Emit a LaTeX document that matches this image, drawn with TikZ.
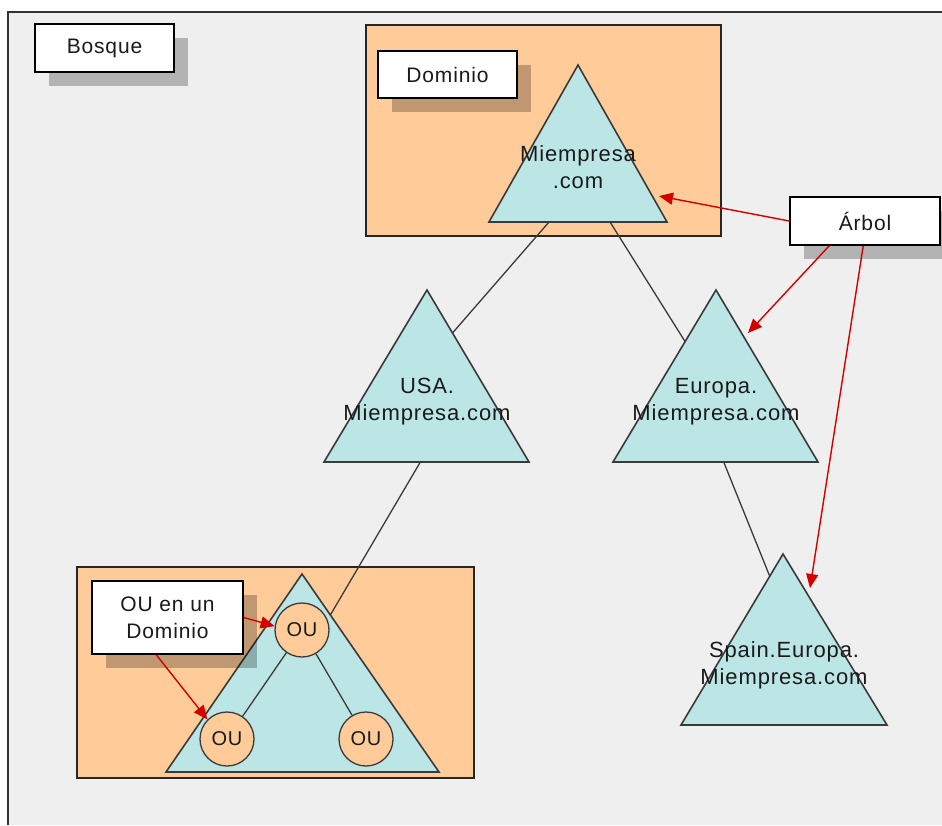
\documentclass[tikz,border=0pt]{standalone}
\usepackage{fontspec}
\setmainfont{Liberation Sans}[LetterSpace=4]
\usetikzlibrary{arrows.meta,calc,shadows}

\definecolor{bggray}{HTML}{EFEFEF}
\definecolor{domorange}{HTML}{FFCC99}
\definecolor{treecyan}{HTML}{BCE6E6}
\definecolor{arrowred}{HTML}{D40000}
\definecolor{edgegray}{HTML}{3A3A3A}
\definecolor{inkgray}{HTML}{1A1A1A}

\tikzset{
  lbl/.style={draw=black, line width=1.5pt, fill=white, inner sep=0pt,
    text=inkgray, font=\fontsize{21}{27}\selectfont, align=center,
    drop shadow={shadow xshift=14pt, shadow yshift=-14pt, fill=black, opacity=0.25}},
  domainbox/.style={draw=black!85, line width=1.7pt, fill=domorange},
  tri/.style={draw=edgegray, line width=1.6pt, fill=treecyan, line join=miter},
  tritext/.style={font=\fontsize{22}{27}\selectfont, text=inkgray, align=center, inner sep=0pt},
  link/.style={draw=edgegray, line width=1.3pt},
  pointer/.style={draw=arrowred, line width=1.4pt, -{Triangle[length=14pt,width=12pt]}},
  ou/.style={circle, draw=edgegray, line width=1.3pt, fill=domorange,
    minimum size=54pt, inner sep=0pt, text=inkgray, font=\fontsize{20}{24}\selectfont},
}

\begin{document}
\begin{tikzpicture}[x=1pt,y=-1pt]
  \useasboundingbox (0,0) rectangle (942,825);
  \clip (0,0) rectangle (942,825);
  \fill[white] (0,0) rectangle (942,825);

  % forest frame
  \fill[bggray] (8,12) rectangle (942,825);
  \draw[line width=1.5pt, black!80] (8,825) -- (8,12) -- (942,12);

  % domain backgrounds
  \path[domainbox] (366,25) rectangle (721,236);
  \path[domainbox] (77,567) rectangle (474,778);

  % tree triangles
  \coordinate (root-a) at (578,65);  \coordinate (root-l) at (489,222); \coordinate (root-r) at (667,222);
  \coordinate (usa-a)  at (427,290); \coordinate (usa-l)  at (324,462); \coordinate (usa-r)  at (529,462);
  \coordinate (eu-a)   at (716,290); \coordinate (eu-l)   at (613,462); \coordinate (eu-r)   at (818,462);
  \coordinate (sp-a)   at (783,554); \coordinate (sp-l)   at (681,725); \coordinate (sp-r)   at (887,725);
  \coordinate (ou-a)   at (302,574); \coordinate (ou-l)   at (166,772); \coordinate (ou-r)   at (439,772);

  \path[tri] (root-a) -- (root-l) -- (root-r) -- cycle;
  \path[tri] (usa-a) -- (usa-l) -- (usa-r) -- cycle;
  \path[tri] (eu-a) -- (eu-l) -- (eu-r) -- cycle;
  \path[tri] (sp-a) -- (sp-l) -- (sp-r) -- cycle;
  \path[tri] (ou-a) -- (ou-l) -- (ou-r) -- cycle;

  % attachment points on the triangles
  \coordinate (root-b1) at ($(root-l)!0.337!(root-r)$);
  \coordinate (root-b2) at ($(root-l)!0.68!(root-r)$);
  \coordinate (usa-side) at ($(usa-a)!0.25!(usa-r)$);
  \coordinate (usa-base) at ($(usa-l)!0.47!(usa-r)$);
  \coordinate (eu-side) at ($(eu-a)!0.30!(eu-l)$);
  \coordinate (eu-base) at ($(eu-l)!0.54!(eu-r)$);
  \coordinate (sp-side) at ($(sp-a)!0.13!(sp-l)$);
  \coordinate (ou-side) at ($(ou-a)!0.207!(ou-r)$);
  \coordinate (root-hit) at (659,196);
  \coordinate (eu-hit) at (748,333);
  \coordinate (sp-hit) at (810,588);

  % links between domains
  \draw[link] (root-b1) -- (usa-side);
  \draw[link] (root-b2) -- (eu-side);
  \draw[link] (eu-base) -- (sp-side);
  \draw[link] (usa-base) -- (ou-side);

  % domain names
  \node[tritext] (root-t) at (578,167) {Miempresa\\.com};
  \node[tritext] (usa-t) at (427,402) {USA.\\Miempresa.com};
  \node[tritext] (eu-t) at (716,402) {Europa.\\Miempresa.com};
  \node[tritext] (sp-t) at (784,665) {Spain.Europa.\\Miempresa.com};

  % organisational units
  \node[ou] (ou1) at (302,630) {OU};
  \node[ou] (ou2) at (227,739) {OU};
  \node[ou] (ou3) at (366,739) {OU};
  \draw[link] (ou1) -- (ou2);
  \draw[link] (ou1) -- (ou3);

  % labels
  \node[lbl, minimum width=139pt, minimum height=48pt] (bosque) at (104.5,48) {Bosque};
  \node[lbl, minimum width=139pt, minimum height=47pt] (dominio) at (447.5,74.5) {Dominio};
  \node[lbl, minimum width=150pt, minimum height=48pt] (arbol) at (865,221) {Árbol};
  \node[lbl, minimum width=151pt, minimum height=73pt] (oubox) at (167.5,617.5) {OU en un\\Dominio};

  % pointers
  \draw[pointer] (arbol.west) -- (root-hit);
  \draw[pointer] ([xshift=40pt]arbol.south west) -- (eu-hit);
  \draw[pointer] ([xshift=74pt]arbol.south west) -- (sp-hit);
  \draw[pointer] (oubox.east) -- (ou1.172);
  \draw[pointer] ([xshift=65pt]oubox.south west) -- (ou2.135);
\end{tikzpicture}
\end{document}
